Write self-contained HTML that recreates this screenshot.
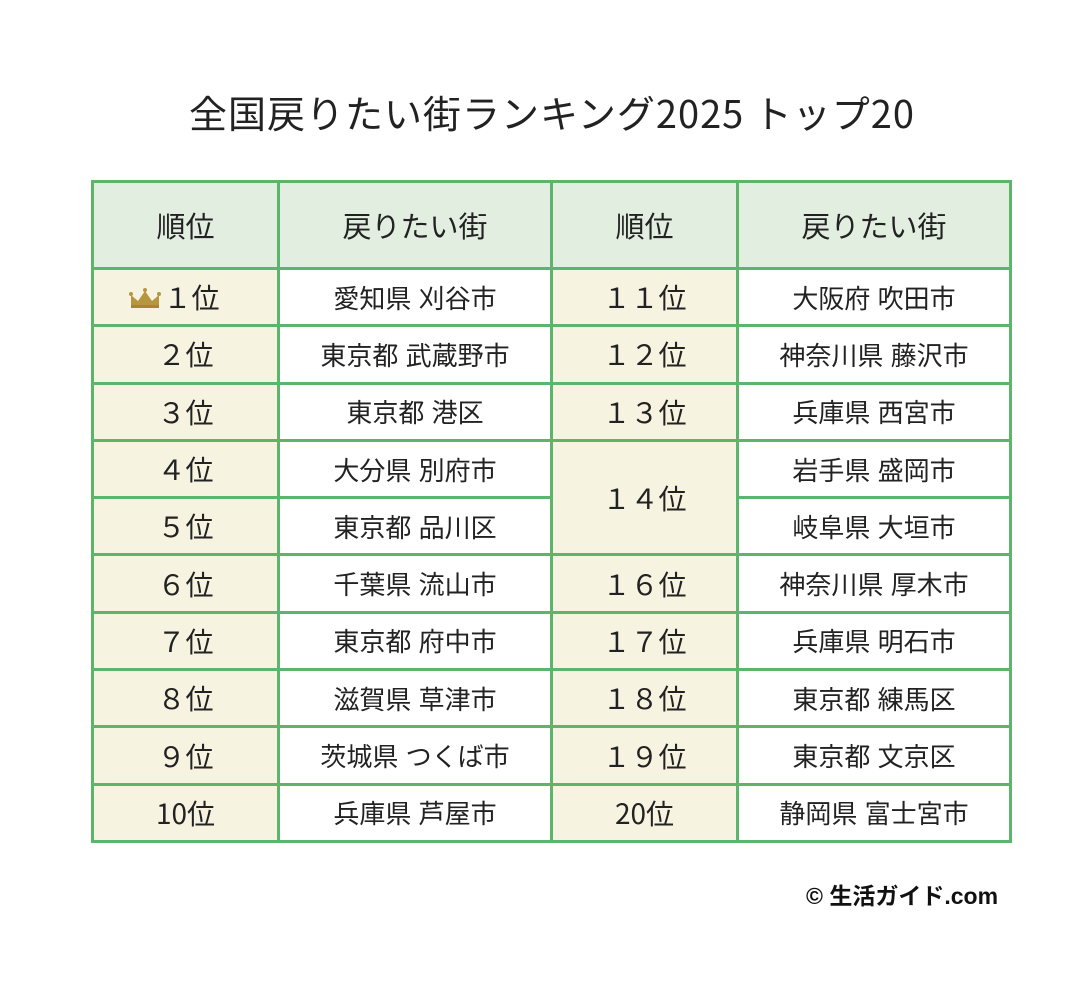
<!DOCTYPE html>
<html><head><meta charset="utf-8">
<style>
body{margin:0;width:1088px;height:997px;background:#fff;position:relative;overflow:hidden;font-family:"Liberation Sans","Noto Sans CJK JP",sans-serif;color:#222}
#title{position:absolute;left:0;width:1104px;top:89px;text-align:center;font-size:38px;letter-spacing:1px;font-family:"Noto Sans CJK JP",sans-serif;line-height:1.2}
table{position:absolute;left:91px;top:180px;border-collapse:collapse;table-layout:fixed;width:918px}
td,th{border:3px solid #5db46b;text-align:center;font-size:25px;font-weight:normal;padding:0}
th{background:#e2efe0;height:84px;font-size:29px}
td{height:54.3px;font-size:26px}
td.r{background:#f6f3e0;font-size:28px;font-family:"Noto Sans CJK JP",sans-serif}
#credit{position:absolute;left:806px;top:877px;font-size:23px;font-weight:bold;color:#111}
.crown{display:inline-block;vertical-align:middle;margin-right:2px;margin-top:-6px;margin-left:-22px}
</style></head><body>
<div id="title">全国戻りたい街ランキング2025 トップ20</div>
<table>
<colgroup><col style="width:186px"><col style="width:273px"><col style="width:186px"><col style="width:273px"></colgroup>
<tr><th>順位</th><th>戻りたい街</th><th>順位</th><th>戻りたい街</th></tr>
<tr><td class="r"><svg class="crown" width="32" height="22" viewBox="0 0 32 22"><path d="M2 20 L2 8 L9 14 L16 4 L23 14 L30 8 L30 20 Z" fill="#b89640"/><circle cx="2" cy="7" r="2" fill="#b89640"/><circle cx="16" cy="3" r="2" fill="#b89640"/><circle cx="30" cy="7" r="2" fill="#b89640"/><rect x="2" y="18" width="28" height="3" fill="#a88530"/></svg>１位</td><td>愛知県 刈谷市</td><td class="r">１１位</td><td>大阪府 吹田市</td></tr>
<tr><td class="r">２位</td><td>東京都 武蔵野市</td><td class="r">１２位</td><td>神奈川県 藤沢市</td></tr>
<tr><td class="r">３位</td><td>東京都 港区</td><td class="r">１３位</td><td>兵庫県 西宮市</td></tr>
<tr><td class="r">４位</td><td>大分県 別府市</td><td class="r" rowspan="2">１４位</td><td>岩手県 盛岡市</td></tr>
<tr><td class="r">５位</td><td>東京都 品川区</td><td>岐阜県 大垣市</td></tr>
<tr><td class="r">６位</td><td>千葉県 流山市</td><td class="r">１６位</td><td>神奈川県 厚木市</td></tr>
<tr><td class="r">７位</td><td>東京都 府中市</td><td class="r">１７位</td><td>兵庫県 明石市</td></tr>
<tr><td class="r">８位</td><td>滋賀県 草津市</td><td class="r">１８位</td><td>東京都 練馬区</td></tr>
<tr><td class="r">９位</td><td>茨城県 つくば市</td><td class="r">１９位</td><td>東京都 文京区</td></tr>
<tr><td class="r">10位</td><td>兵庫県 芦屋市</td><td class="r">20位</td><td>静岡県 富士宮市</td></tr>
</table>
<div id="credit">© 生活ガイド.com</div>
</body></html>
